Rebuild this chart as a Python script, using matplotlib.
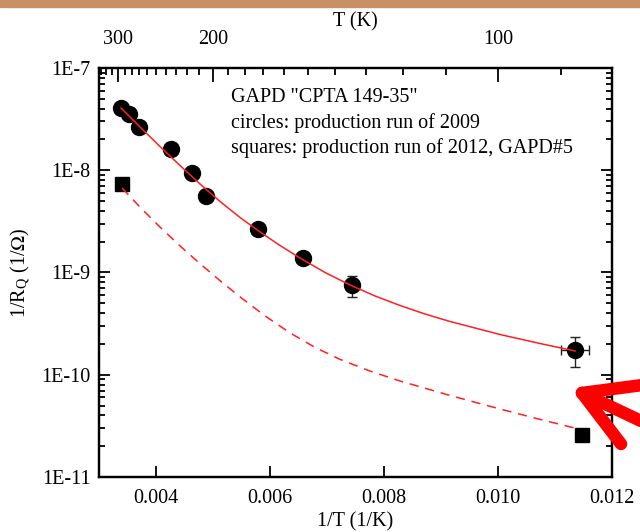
import numpy as np
import matplotlib
matplotlib.use('agg')
import matplotlib.pyplot as plt
from matplotlib.ticker import FixedLocator, FuncFormatter, NullFormatter
from matplotlib.patches import Rectangle

plt.rcParams['font.family'] = ['Liberation Serif', 'DejaVu Serif']
plt.rcParams['mathtext.fontset'] = 'stix'

# production run of 2009 (circles)
inv_t_2009 = [0.003381, 0.003526, 0.003702, 0.004258, 0.004637, 0.004877,
              0.005784, 0.006574, 0.007433, 0.011351]
g_2009 = [4.09e-8, 3.55e-8, 2.67e-8, 1.60e-8, 9.46e-9, 5.60e-9,
          2.64e-9, 1.38e-9, 7.55e-10, 1.75e-10]
g_2009_lo = [0, 0, 0, 0, 0, 0, 0, 0, 1.76e-10, 0.55e-10]
g_2009_hi = [0, 0, 0, 0, 0, 0, 0, 0, 1.70e-10, 0.57e-10]
inv_t_2009_err = [0, 0, 0, 0, 0, 0, 0, 0, 0, 0.00025]

# production run of 2012, GAPD#5 (squares)
inv_t_2012 = [0.003398, 0.011479]
g_2012 = [7.35e-9, 2.58e-11]

# fitted curves
fit_2009_x = [0.003386, 0.003719, 0.004070, 0.004421, 0.004772, 0.005123,
              0.005474, 0.005825, 0.006175, 0.006526, 0.006965, 0.007404,
              0.007842, 0.008281, 0.008719, 0.009158, 0.010035, 0.010737, 0.011351]
fit_2009_y = [4.062e-8, 2.649e-8, 1.707e-8, 1.113e-8, 7.337e-9, 4.948e-9,
              3.451e-9, 2.490e-9, 1.837e-9, 1.386e-9, 1.000e-9, 7.547e-10,
              5.891e-10, 4.756e-10, 3.928e-10, 3.318e-10, 2.475e-10, 2.021e-10, 1.707e-10]
fit_2012_x = [0.003404, 0.003719, 0.004070, 0.004421, 0.004772, 0.005123,
              0.005474, 0.005912, 0.006351, 0.006789, 0.007228, 0.007754,
              0.008281, 0.009158, 0.010035, 0.010737, 0.011351]
fit_2012_y = [6.707e-9, 4.361e-9, 2.780e-9, 1.820e-9, 1.219e-9, 8.316e-10,
              5.773e-10, 3.763e-10, 2.567e-10, 1.851e-10, 1.413e-10, 1.086e-10,
              8.687e-11, 6.268e-11, 4.624e-11, 3.658e-11, 3.008e-11]

temp_major = [300, 200, 100]
temp_minor = list(range(90, 340, 10))

FS = 14.5

fig = plt.figure(figsize=(6.4, 5.32), dpi=100)
ax = fig.add_axes([0.1547, 0.1034, 0.8016, 0.7688])

ax.plot(fit_2009_x, fit_2009_y, color='#ff2020', lw=1.1, zorder=3)
ax.plot(fit_2012_x, fit_2012_y, color='#ff2020', lw=1.1, ls=(0, (6, 4.5)), zorder=3)
ax.errorbar(inv_t_2009, g_2009, yerr=[g_2009_lo, g_2009_hi], xerr=inv_t_2009_err,
            fmt='o', color='black', ms=11.5, ecolor='#222222', elinewidth=1.0,
            capsize=3.5, capthick=1.0, zorder=2)
ax.plot(inv_t_2012, g_2012, 's', color='black', ms=9.5, zorder=2)

ax.set_yscale('log')
ax.set_xlim(0.003, 0.012)
ax.set_ylim(1e-11, 1e-7)
ax.set_xticks([0.004, 0.006, 0.008, 0.010, 0.012])
ax.set_xticklabels(['0.004', '0.006', '0.008', '0.010', '0.012'])
ax.yaxis.set_major_locator(FixedLocator([1e-11, 1e-10, 1e-9, 1e-8, 1e-7]))
ax.yaxis.set_major_formatter(FuncFormatter(lambda v, p: '1E%d' % round(np.log10(v))))
ax.yaxis.set_minor_locator(FixedLocator([m * 10.0 ** e for e in range(-11, -7) for m in range(2, 10)]))
ax.yaxis.set_minor_formatter(NullFormatter())

ax.tick_params(axis='both', which='both', direction='in', right=True, labelsize=FS, width=1.3)
ax.tick_params(axis='y', which='major', length=8, pad=6)
ax.tick_params(axis='y', which='minor', length=4.5)
ax.tick_params(axis='x', which='major', length=8, pad=8.5, top=False)
for s in ax.spines.values():
    s.set_linewidth(1.6)

ax.set_xlabel('1/T (1/K)', fontsize=FS, labelpad=3)
ax.set_ylabel(r'1/R$_\mathregular{Q}$ (1/$\Omega$)', fontsize=FS, labelpad=6)

# temperature scale on top
top = ax.twiny()
top.set_xlim(ax.get_xlim())
top.set_xticks([1.0 / t for t in temp_major])
top.set_xticklabels([str(t) for t in temp_major])
top.set_xticks([1.0 / t for t in temp_minor if 1.0 / t > 0.003], minor=True)
top.tick_params(axis='x', which='both', direction='in', labelsize=FS, width=1.3, pad=13.5)
top.tick_params(axis='x', which='major', length=10)
top.tick_params(axis='x', which='minor', length=5)
top.set_xlabel('T (K)', fontsize=FS, labelpad=2.5)
for s in top.spines.values():
    s.set_linewidth(1.6)

ax.text(0.258, 0.927, 'GAPD "CPTA 149-35"', transform=ax.transAxes, fontsize=FS, va='center')
ax.text(0.258, 0.866, 'circles: production run of 2009', transform=ax.transAxes, fontsize=FS, va='center')
ax.text(0.258, 0.805, 'squares: production run of 2012, GAPD#5', transform=ax.transAxes, fontsize=FS, va='center')

# brown strip along the top edge
fig.patches.append(Rectangle((0, 1 - 7 / 532), 1, 7 / 532, transform=fig.transFigure,
                             color='#c89064', zorder=0))

# red pointer arrow at the lower right
W, H = 640, 532
tip = (582 / W, 1 - 393 / H)
for end in [(650 / W, 1 - 384 / H), (621 / W, 1 - 444 / H), (660 / W, 1 - 430 / H)]:
    fig.add_artist(plt.Line2D([tip[0], end[0]], [tip[1], end[1]], transform=fig.transFigure,
                              color='#ff0000', lw=9, solid_capstyle='round', zorder=10))

fig.savefig('out.png', dpi=100)
